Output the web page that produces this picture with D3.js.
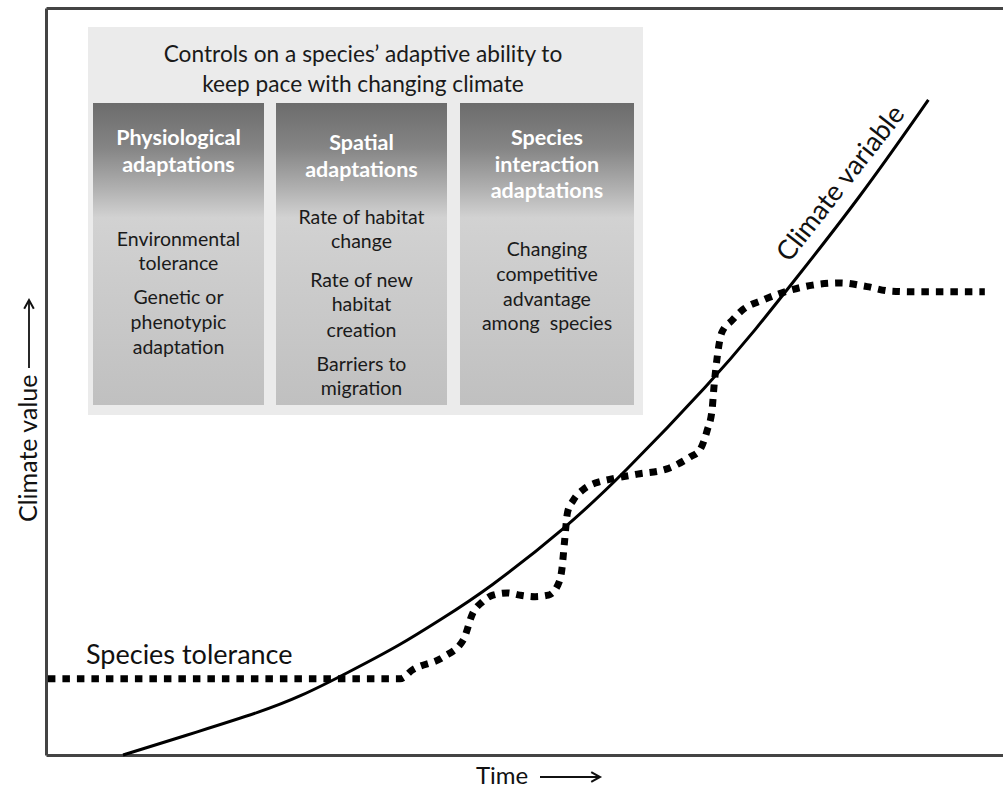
<!DOCTYPE html>
<html>
<head>
<meta charset="utf-8">
<script src="https://cdn.jsdelivr.net/npm/d3@7"></script>
<style>
  html, body { margin: 0; padding: 0; background: #fff; }
  svg { display: block; }
  text { font-family: Lato, "Open Sans", sans-serif; }
</style>
</head>
<body>
<svg id="chart" width="1003" height="791"></svg>
<script>
// ---- Data (time 0..100, climate value 0..100) ----
const climateTime  = [8.05, 16.1, 22.4, 26.5, 31.5, 37.0, 41.2, 46.1, 54.4, 60.0, 69.7, 74.3, 77.7, 85.1, 92.2];
const climateValue = [0, 3.21, 5.76, 7.76, 11.0, 14.7, 18.1, 22.1, 30.5, 37.2, 50.2, 57.2, 62.7, 74.7, 87.7];

const toleranceTime  = [0.2, 37.0, 38.3, 41.5, 43.6, 44.6, 45.6, 46.7, 48.2, 49.5, 51.1, 52.5, 53.5, 53.9, 54.2, 54.5, 55.1, 56.1, 57.4, 58.9, 61.8, 64.9, 67.3, 68.3, 69.1, 69.6, 69.8, 70.1, 70.6, 71.7, 72.8, 74.9, 77.7, 80.1, 83.0, 85.8, 88.2, 90.6, 98.1];
const toleranceValue = [10.2, 10.2, 11.4, 13.1, 15.4, 19.0, 20.5, 21.4, 21.7, 21.4, 21.2, 21.4, 22.8, 24.8, 28.8, 32.5, 34.1, 35.5, 36.4, 36.9, 37.6, 38.3, 39.9, 40.8, 43.5, 46.2, 49.3, 52.9, 56.5, 58.2, 59.6, 60.9, 62.2, 62.9, 63.2, 62.7, 62.1, 62.0, 62.0];

const boxTitle = ["Controls on a species\u2019 adaptive ability to", "keep pace with changing climate"];
const panelHeaders = [
  ["Physiological", "adaptations"],
  ["Spatial", "adaptations"],
  ["Species", "interaction", "adaptations"]
];
const panelBodies = [
  [["Environmental", "tolerance"], ["Genetic or", "phenotypic", "adaptation"]],
  [["Rate of habitat", "change"], ["Rate of new", "habitat", "creation"], ["Barriers to", "migration"]],
  [["Changing", "competitive", "advantage", "among  species"]]
];
const xAxisLabel = "Time";
const yAxisLabel = "Climate value";
const climateLabel = "Climate variable";
const toleranceLabel = "Species tolerance";

// ---- Layout ----
const svg = d3.select("#chart");
const plot = {left: 46, right: 1003, top: 8, bottom: 755};

const x = d3.scaleLinear().domain([0, 100]).range([plot.left, plot.right]);
const y = d3.scaleLinear().domain([0, 100]).range([plot.bottom, plot.top]);

// gradient for panels
const defs = svg.append("defs");
const grad = defs.append("linearGradient").attr("id", "pg").attr("x1", 0).attr("y1", 0).attr("x2", 0).attr("y2", 1);
[[0, "#6c6c6c"], [0.15, "#858585"], [0.28, "#afafaf"], [0.38, "#d2d2d2"], [0.55, "#cdcdcd"], [1, "#c0c0c0"]]
  .forEach(([o, c]) => grad.append("stop").attr("offset", o).attr("stop-color", c));

// frame (axes without ticks)
const frameColor = "#444";
svg.append("g").attr("transform", `translate(0,${plot.bottom})`)
  .call(d3.axisBottom(x).tickValues([]).tickSizeOuter(0))
  .call(g => g.select(".domain").attr("stroke", frameColor).attr("stroke-width", 3));
svg.append("g").attr("transform", `translate(${plot.left},0)`)
  .call(d3.axisLeft(y).tickValues([]).tickSizeOuter(0))
  .call(g => g.select(".domain").attr("stroke", frameColor).attr("stroke-width", 3));
svg.append("g").attr("transform", `translate(0,${plot.top})`)
  .call(d3.axisTop(x).tickValues([]).tickSizeOuter(0))
  .call(g => g.select(".domain").attr("stroke", frameColor).attr("stroke-width", 3));

// info box
const box = {x: 88, y: 27, w: 555, h: 388};
svg.append("rect").attr("x", box.x).attr("y", box.y).attr("width", box.w).attr("height", box.h).attr("fill", "#ebebeb");
svg.append("g").selectAll("text").data(boxTitle).join("text")
  .attr("x", 363).attr("y", (d, i) => 54 + i * 30).attr("dy", "0.35em")
  .attr("text-anchor", "middle").attr("font-size", 22.7).attr("fill", "#1a1a1a").text(d => d);

const panels = [
  {x: 93, w: 171, headY: [137, 164], bodyY: [[239, 263], [297, 322, 347]]},
  {x: 276, w: 171, headY: [142, 169], bodyY: [[217, 241], [280, 304, 330], [364, 388]]},
  {x: 460, w: 174, headY: [137, 164, 190], bodyY: [[249, 274, 299, 323]]}
];
panels.forEach((p, i) => {
  const g = svg.append("g");
  g.append("rect").attr("x", p.x).attr("y", 103).attr("width", p.w).attr("height", 302).attr("fill", "url(#pg)");
  const cx = p.x + p.w / 2;
  g.selectAll("text.h").data(panelHeaders[i]).join("text").attr("class", "h")
    .attr("x", cx).attr("y", (d, j) => p.headY[j]).attr("dy", "0.35em")
    .attr("text-anchor", "middle").attr("font-size", 21.5).attr("font-weight", "bold")
    .attr("fill", "#fff").text(d => d);
  panelBodies[i].forEach((grp, k) => {
    g.selectAll(null).data(grp).join("text")
      .attr("x", cx).attr("y", (d, j) => p.bodyY[k][j]).attr("dy", "0.35em")
      .attr("text-anchor", "middle").attr("font-size", 19.5).attr("fill", "#1a1a1a")
      .attr("xml:space", "preserve").style("white-space", "pre").text(d => d);
  });
});

// lines
const solidLine = d3.line().x(d => x(d[0])).y(d => y(d[1])).curve(d3.curveBasis);
const dotLine = d3.line().x(d => x(d[0])).y(d => y(d[1])).curve(d3.curveMonotoneX);
svg.append("path").datum(climateTime.map((t, i) => [t, climateValue[i]]))
  .attr("d", solidLine).attr("fill", "none").attr("stroke", "#000").attr("stroke-width", 3);
svg.append("path").datum(toleranceTime.map((t, i) => [t, toleranceValue[i]]))
  .attr("d", dotLine).attr("fill", "none").attr("stroke", "#000").attr("stroke-width", 7)
  .attr("stroke-dasharray", "7.5,7");

// labels
svg.append("text").attr("x", 86).attr("y", 664).attr("font-size", 27).attr("fill", "#111").text(toleranceLabel);
svg.append("text").attr("transform", `translate(${x(82.97)},${y(76.57)}) rotate(-52)`)
  .attr("text-anchor", "middle").attr("dy", "0.35em").attr("font-size", 27).attr("fill", "#111").text(climateLabel);

// axis titles with arrows
svg.append("text").attr("x", 476).attr("y", 776).attr("dy", "0.35em").attr("font-size", 24).attr("fill", "#111").text(xAxisLabel);
svg.append("text").attr("transform", "translate(28,522) rotate(-90)").attr("dy", "0.35em")
  .attr("font-size", 25).attr("fill", "#111").text(yAxisLabel);

function arrow(x1, y1, x2, y2) {
  const a = Math.atan2(y2 - y1, x2 - x1), L = 10, s = 0.5;
  svg.append("line").attr("x1", x1).attr("y1", y1).attr("x2", x2).attr("y2", y2).attr("stroke", "#111").attr("stroke-width", 1.8);
  svg.append("path").attr("d", `M${x2 - L * Math.cos(a - s)},${y2 - L * Math.sin(a - s)} L${x2},${y2} L${x2 - L * Math.cos(a + s)},${y2 - L * Math.sin(a + s)}`)
    .attr("fill", "none").attr("stroke", "#111").attr("stroke-width", 2);
}
arrow(540, 777, 600, 777);
arrow(29, 368, 29, 300);
</script>
</body>
</html>
